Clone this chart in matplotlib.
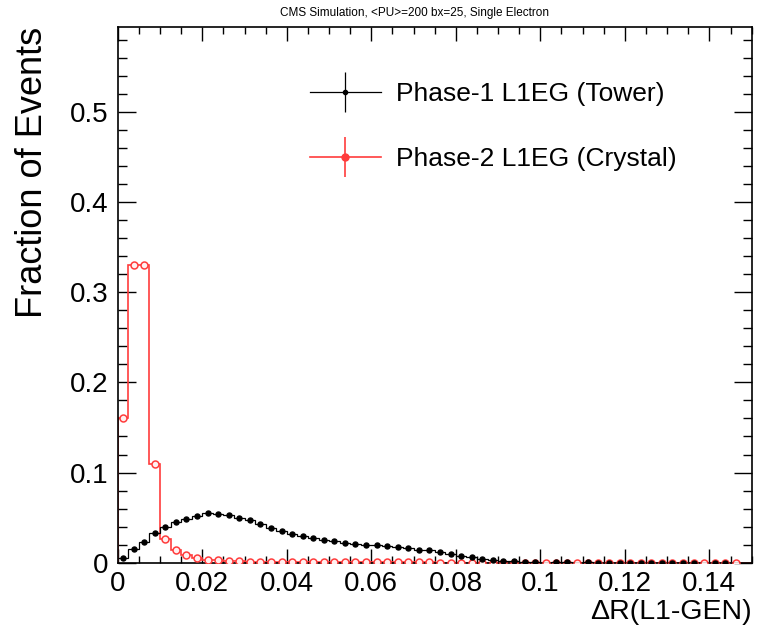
import numpy as np
import matplotlib

matplotlib.use("Agg")
import matplotlib.pyplot as plt  # noqa: E402
from matplotlib.container import ErrorbarContainer  # noqa: E402
from matplotlib.legend_handler import HandlerErrorbar  # noqa: E402

plt.rcParams["font.family"] = ["Liberation Sans", "DejaVu Sans"]

# 60 bins of dR(L1-GEN) between 0 and 0.15 ; nan = empty bin
dr_lo, dr_hi, n_bins = 0.0, 0.15, 60

phase1_tower = [
    0.0048, 0.0150, 0.0232, 0.0326, 0.0398, 0.0452, 0.0486, 0.0520, 0.0550, 0.0542,
    0.0525, 0.0502, 0.0472, 0.0432, 0.0390, 0.0350, 0.0322, 0.0297, 0.0275, 0.0256,
    0.0240, 0.0222, 0.0208, 0.0201, 0.0199, 0.0191, 0.0177, 0.0160, 0.0145, 0.0137,
    0.0119, 0.0100, 0.0078, 0.0060, 0.0046, 0.0034, 0.0024, 0.0018, 0.0014, 0.0010,
    np.nan, 0.0006, 0.0005, np.nan, 0.0004, 0.0003, 0.0003, 0.0002, 0.0002, 0.0002,
    0.0001, 0.0001, 0.0001, 0.0001, 0.0001, np.nan, 0.0001, 0.0001, np.nan, np.nan,
]

phase2_crystal = [
    0.161, 0.330, 0.330, 0.110, 0.0262, 0.0140, 0.0082, 0.0052, 0.0033, 0.0026,
    0.0021, 0.0016, 0.0012, 0.0011, 0.0010, 0.0009, 0.0009, 0.0008, 0.0008, 0.0007,
    0.0007, 0.0006, 0.0006, 0.0006, 0.0005, 0.0005, 0.0005, 0.0004, 0.0004, 0.0004,
    0.0003, 0.0003, 0.0003, 0.0002, 0.0002, 0.0002, 0.0001, 0.0, 0.0, 0.0,
    0.0, 0.0, 0.0, 0.0, 0.0, 0.0, 0.0, 0.0, 0.0, 0.0,
    0.0, 0.0, 0.0, 0.0, 0.0, 0.0, 0.0, 0.0, 0.0, np.nan,
]

labels = ["Phase-1 L1EG (Tower)", "Phase-2 L1EG (Crystal)"]
title = "CMS Simulation, <PU>=200 bx=25, Single Electron"

x_ticks = [0, 0.02, 0.04, 0.06, 0.08, 0.10, 0.12, 0.14]
x_ticklabels = ["0", "0.02", "0.04", "0.06", "0.08", "0.1", "0.12", "0.14"]
y_ticks = [0, 0.1, 0.2, 0.3, 0.4, 0.5]
y_ticklabels = ["0", "0.1", "0.2", "0.3", "0.4", "0.5"]

RED = "#ff3c3c"

edges = np.linspace(dr_lo, dr_hi, n_bins + 1)
centers = 0.5 * (edges[:-1] + edges[1:])

fig = plt.figure(figsize=(7.6, 6.41), dpi=100)
ax = fig.add_axes([0.155, 0.122, 0.834, 0.836])

red = np.asarray(phase2_crystal, dtype=float)
blk = np.asarray(phase1_tower, dtype=float)

# red first, black on top (as in the original ROOT canvas)
ax.stairs(np.nan_to_num(red), edges, baseline=0, color=RED, lw=1.2, zorder=2)
ax.plot(centers[np.isfinite(red)], red[np.isfinite(red)], ls="none", marker="o", ms=5,
        mec=RED, mfc="#fff0f0", mew=1.1, zorder=3)
ax.stairs(np.nan_to_num(blk), edges, baseline=None, color="black", lw=0.9, zorder=4)
ax.plot(centers[np.isfinite(blk)], blk[np.isfinite(blk)], ls="none", marker="o", ms=3.6,
        color="black", zorder=5)

# legend-only handles: line + vertical error + marker
h1 = ax.errorbar([np.nan], [np.nan], yerr=[1], fmt="o-", color="black", lw=0.9, ms=3,
                 elinewidth=0.9, capsize=0, label=labels[0])
h2 = ax.errorbar([np.nan], [np.nan], yerr=[1], fmt="o-", color=RED, lw=1.2, ms=5,
                 elinewidth=1.2, capsize=0, label=labels[1])
ax.legend(handles=[h1, h2], loc="upper left", bbox_to_anchor=(0.303, 0.897),
          frameon=False, fontsize=19, handlelength=2.7, handletextpad=0.57,
          labelspacing=1.55, borderaxespad=0, borderpad=0,
          handler_map={ErrorbarContainer: HandlerErrorbar(yerr_size=0.75)})

ax.set_xlim(dr_lo, dr_hi)
ax.set_ylim(0, 0.594)
ax.set_xticks(x_ticks)
ax.set_xticklabels(x_ticklabels)
ax.set_yticks(y_ticks)
ax.set_yticklabels(y_ticklabels)
ax.set_xticks(np.arange(0, 0.1501, 0.005), minor=True)
ax.set_yticks(np.arange(0, 0.59, 0.02), minor=True)
ax.tick_params(which="both", direction="in", top=True, right=True, width=1.0)
ax.tick_params(axis="x", which="major", length=10, labelsize=20, pad=6)
ax.tick_params(axis="x", which="minor", length=5)
ax.tick_params(axis="y", which="major", length=13, labelsize=20, pad=7)
ax.tick_params(axis="y", which="minor", length=6.5)
for s in ax.spines.values():
    s.set_linewidth(1.2)

ax.set_xlabel("ΔR(L1-GEN)", fontsize=20.5, loc="right", labelpad=1.5)
ax.set_ylabel("Fraction of Events", fontsize=26, loc="top", labelpad=14)
fig.text(0.545, 0.979, title, ha="center", va="center", fontsize=8.5)

fig.savefig("out.png", dpi=100)
